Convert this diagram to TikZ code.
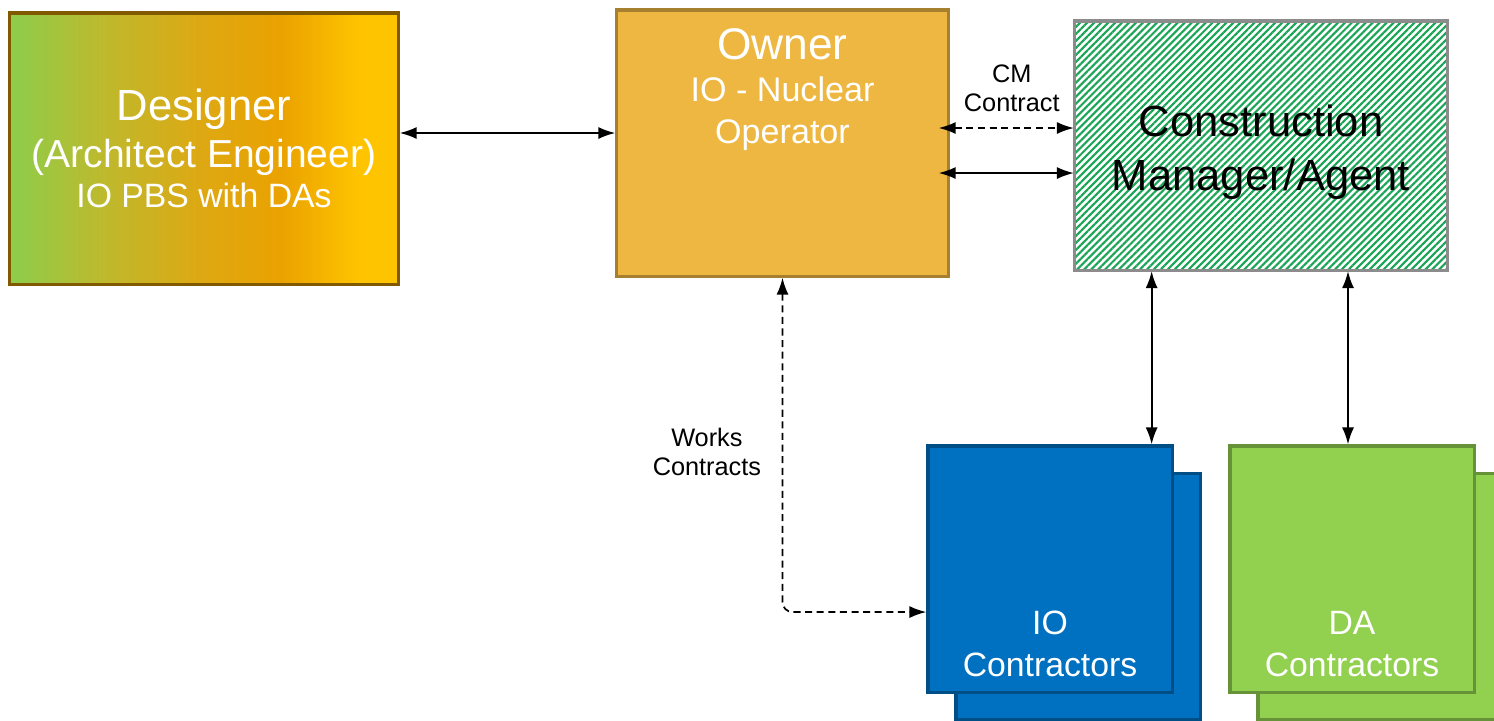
\documentclass[tikz,border=0pt]{standalone}
\usepackage{fontspec}
\setmainfont{Liberation Sans}
\usetikzlibrary{arrows.meta,patterns.meta}
\definecolor{ownerfill}{RGB}{237,183,65}
\definecolor{ioblue}{RGB}{0,112,192}
\definecolor{dagreen}{RGB}{146,208,80}
\definecolor{hatchgreen}{RGB}{25,165,85}
\definecolor{desgreen}{RGB}{140,205,75}
\definecolor{desolive}{RGB}{190,185,45}
\definecolor{desamber}{RGB}{222,168,18}
\definecolor{desorange}{RGB}{234,162,0}
\definecolor{desyellow}{RGB}{255,196,0}
\pgfdeclarehorizontalshading{designershade}{100bp}{color(0bp)=(desgreen);
  color(25bp)=(desgreen); color(37bp)=(desolive); color(50bp)=(desamber);
  color(60bp)=(desorange); color(70bp)=(desyellow); color(100bp)=(desyellow)}
\begin{document}
\begin{tikzpicture}
[x=0.01cm,y=-0.01cm,
  boxdecorate/.style={shape=rectangle,inner sep=0pt,line width=0.9pt},%
  textdecorate/.style={align=center,text=white,inner sep=0pt},%
  arrowdecorate/.style={{Latex[length=4.8pt,width=3.4pt]}-{Latex[length=4.8pt,width=3.4pt]},line width=0.5pt},%
  dasheddecorate/.style={arrowdecorate,dash pattern=on 2pt off 1.3pt},%
  labeldecorate/.style={align=center,font=\fontsize{7.2}{8.3}\selectfont,inner sep=1pt}]
\useasboundingbox (0,0) rectangle (1494,720);
%% boxes
\node (designer) at (204,148.5) [boxdecorate,minimum width=3.88cm,minimum height=2.71cm,
  shading=designershade,draw=desorange!55!black,textdecorate,font=\fontsize{9.6}{13.2}\selectfont]
  {{\fontsize{12.4}{13.2}\selectfont Designer}\\{\fontsize{11.1}{13.2}\selectfont (Architect Engineer)}\\[-0.06cm]IO PBS with DAs};
\node (owner) at (782.5,143) [boxdecorate,minimum width=3.31cm,minimum height=2.66cm,
  fill=ownerfill,draw=ownerfill!70!black] {};
\node [textdecorate,anchor=north,font=\fontsize{9.7}{12}\selectfont] at ([yshift=-0.19cm]owner.north)
  {{\fontsize{12.6}{12.6}\selectfont Owner}\\IO - Nuclear\\Operator};
\node (cm) at (1261,145.5) [boxdecorate,minimum width=3.72cm,minimum height=2.49cm,
  preaction={fill=white},pattern={Lines[angle=45,distance=1.4pt,line width=0.6pt]},
  pattern color=hatchgreen,draw=black!45] {};
\node [align=center,inner sep=0pt,font=\fontsize{12.4}{15.4}\selectfont] at ([yshift=-0.07cm]cm.center)
  {Construction\\Manager/Agent};
\foreach \nodename/\x/\colour/\firstline in {io/1050/ioblue/IO, da/1352/dagreen/DA}
{
  \node (\nodename back) at (\x+28,596.5) [boxdecorate,minimum width=2.44cm,minimum height=2.46cm,
    fill=\colour,draw=\colour!70!black] {};
  \node (\nodename) at (\x,569) [boxdecorate,minimum width=2.44cm,minimum height=2.46cm,
    fill=\colour,draw=\colour!70!black] {};
  \node [textdecorate,anchor=south,font=\fontsize{9.6}{12}\selectfont] at ([yshift=0.16cm]\nodename.south)
    {\firstline\\Contractors};
}
%% connectors
\coordinate (desarrow) at ([yshift=0.1cm]owner.west);
\draw[arrowdecorate] (desarrow -| designer.east) -- (desarrow);
\coordinate (cmdashed) at ([yshift=0.15cm]owner.east);
\coordinate (cmsolid) at ([yshift=-0.3cm]owner.east);
\draw[dasheddecorate,shorten <=-0.11cm] (cmdashed) -- node[above=0.12cm,labeldecorate] {CM\\Contract} (cmdashed -| cm.west);
\draw[arrowdecorate,shorten <=-0.11cm] (cmsolid) -- (cmsolid -| cm.west);
\draw[dasheddecorate,rounded corners=0.1cm] (owner.south) |- node[left=0.17cm,pos=0.26,labeldecorate] {Works\\Contracts}
  ([yshift=-0.43cm]io.west);
\coordinate (iotop) at ([xshift=-0.22cm]io.north east);
\draw[arrowdecorate] (iotop |- cm.south) -- (iotop);
\coordinate (datop) at ([xshift=-0.04cm]da.north);
\draw[arrowdecorate] (datop |- cm.south) -- (datop);
\end{tikzpicture}
\end{document}
